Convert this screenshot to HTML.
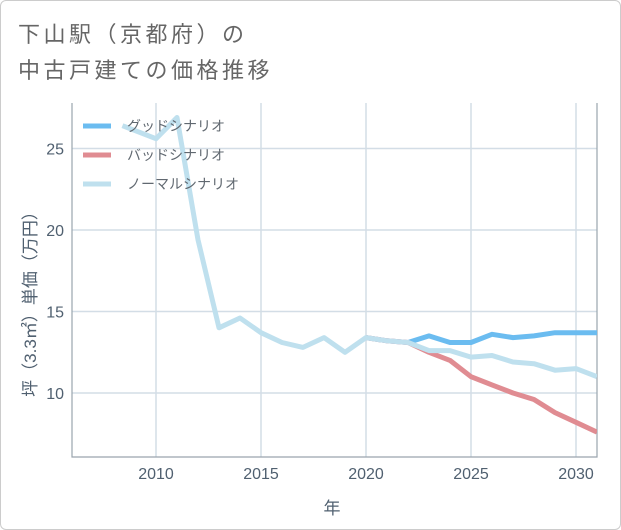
<!DOCTYPE html>
<html><head><meta charset="utf-8"><style>
html,body{margin:0;padding:0;background:#fff;}
body{width:621px;height:530px;overflow:hidden;font-family:"Liberation Sans","Noto Sans CJK JP",sans-serif;}
#frame{position:absolute;left:0;top:0;width:619px;height:528px;border:1px solid #ccc;border-radius:6px;}
.title{position:absolute;left:18px;font-size:22px;color:#666;letter-spacing:3.5px;white-space:nowrap;}
</style></head><body>
<div id="frame"></div>
<div class="title" style="top:17px">下山駅（京都府）の</div>
<div class="title" style="top:53px">中古戸建ての価格推移</div>
<svg id="chart" width="621" height="530" style="position:absolute;left:0;top:0"></svg>
<script>
const xTicks=[2010,2015,2020,2025,2030];
const yTicks=[10,15,20,25];
const normalYears=[2008.4,2010,2011,2012,2013,2014,2015,2016,2017,2018,2019,2020,2021,2022,2023,2024,2025,2026,2027,2028,2029,2030,2031];
const normalVals=[26.4,25.6,26.9,19.4,14.0,14.6,13.7,13.1,12.8,13.4,12.5,13.4,13.2,13.1,12.6,12.6,12.2,12.3,11.9,11.8,11.4,11.5,11.0];
const futureYears=[2020,2021,2022,2023,2024,2025,2026,2027,2028,2029,2030,2031];
const goodVals=[13.4,13.2,13.1,13.5,13.1,13.1,13.6,13.4,13.5,13.7,13.7,13.7];
const badVals=[13.4,13.2,13.1,12.5,12.0,11.0,10.5,10.0,9.6,8.8,8.2,7.6];
const legendLabels=["グッドシナリオ","バッドシナリオ","ノーマルシナリオ"];
const svg=document.getElementById('chart');
const NS='http://www.w3.org/2000/svg';
const L=72,R=597,T=103,B=457;
const xs=y=>156+(y-2010)*21;
const ys=v=>393-(v-10)*16.3;
function mk(tag,attrs){const e=document.createElementNS(NS,tag);for(const k in attrs)e.setAttribute(k,attrs[k]);svg.appendChild(e);return e;}
xTicks.forEach(t=>{
  const g=mk('line',{x1:xs(t),x2:xs(t),y1:T,y2:B,stroke:'#d3dde6','stroke-width':1.5});
  
  
  const tx=mk('text',{x:xs(t),y:479,'text-anchor':'middle','font-size':16,fill:'#506070'});
  tx.textContent=t;
  
  
});
yTicks.forEach(t=>{
  const g=mk('line',{x1:L,x2:R,y1:ys(t),y2:ys(t),stroke:'#d3dde6','stroke-width':1.5});
  
  
  const tx=mk('text',{x:64,y:ys(t)+6,'text-anchor':'end','font-size':16,fill:'#506070'});
  tx.textContent=t;
  
  
});
const ax=mk('path',{d:`M${L} ${T}V${B}H${R}V${T}`,fill:'none',stroke:'#9aa5ae','stroke-width':1.2});


const defs=mk('defs',{});
const cp=document.createElementNS(NS,'clipPath');cp.setAttribute('id','clip');
const cr=document.createElementNS(NS,'rect');cr.setAttribute('x',L);cr.setAttribute('y',T);cr.setAttribute('width',R-L);cr.setAttribute('height',B-T);
cp.appendChild(cr);defs.appendChild(cp);
function series(years,vals,color,name){
  const d=years.map((y,i)=>(i?'L':'M')+xs(y).toFixed(1)+' '+ys(vals[i]).toFixed(1)).join('');
  const p=mk('path',{d:d,fill:'none',stroke:color,'stroke-width':5,'stroke-linejoin':'round','clip-path':'url(#clip)'});
  
  
}
series(futureYears,goodVals,'#6bbcf0','good-scenario-line');
series(futureYears,badVals,'#e08c92','bad-scenario-line');
series(normalYears,normalVals,'#bfe0ee','normal-scenario-line');
const legColors=['#6bbcf0','#e08c92','#bfe0ee'];
legendLabels.forEach((lab,i)=>{
  const y=126+i*29;
  const l=mk('line',{x1:83,x2:111,y1:y,y2:y,stroke:legColors[i],'stroke-width':5});
  
  
  const t=mk('text',{x:127,y:y+5,'font-size':14,fill:'#606870'});
  t.textContent=lab;
  
  
});
const xl=mk('text',{x:332,y:514,'text-anchor':'middle','font-size':17,fill:'#506070'});
xl.textContent='年';


const yl=mk('text',{x:0,y:0,'text-anchor':'middle','font-size':17,fill:'#506070',transform:'translate(36 300) rotate(-90)'});
yl.textContent='坪（3.3㎡）単価（万円）';


</script>
</body></html>
